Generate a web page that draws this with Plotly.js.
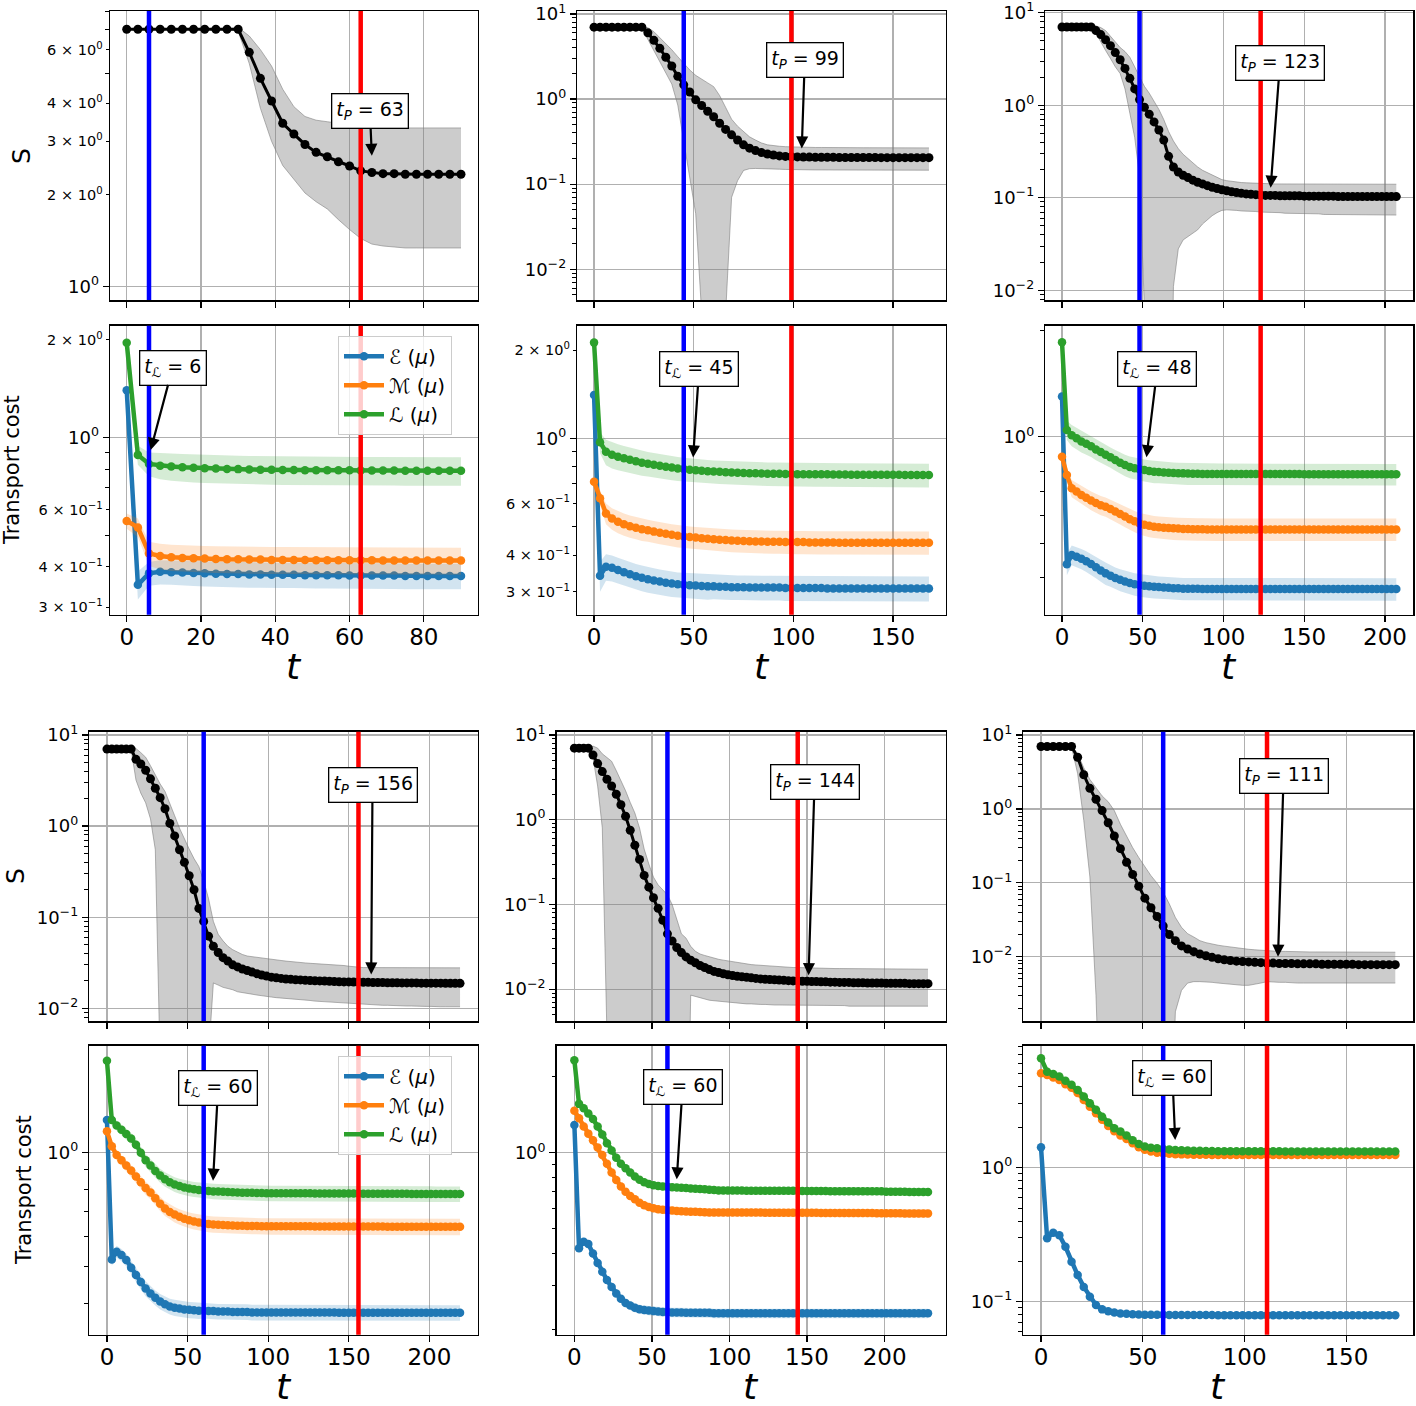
<!DOCTYPE html>
<html><head><meta charset="utf-8">
<script src="https://cdn.plot.ly/plotly-3.0.1.min.js"></script>
<style>html,body{margin:0;padding:0;background:#fff}#chart{width:1416px;height:1406px}</style>
</head><body><div id="chart"></div>
<script>
// ================= DATA =================
// Run A (top-left column): t = 0..90 step 3
const A_tL = 6, A_tP = 63;
const A_S = [7.0,7.0,7.0,7.0,7.0,7.0,7.0,7.0,7.0,7.0,
 7.0,5.88,4.83,4.07,3.44,3.17,2.93,2.76,2.67,2.57,
 2.49,2.40,2.37,2.35,2.35,2.34,2.34,2.34,2.34,2.34,
 2.34];
const A_Slo = [7.0,7.0,7.0,7.0,7.0,7.0,7.0,7.0,7.0,7.0,
 6.9,5.4,3.85,3.0,2.5,2.25,2.03,1.9,1.8,1.66,
 1.54,1.44,1.38,1.36,1.35,1.34,1.34,1.34,1.34,1.34,
 1.34];
const A_Shi = [7.0,7.0,7.0,7.0,7.0,7.0,7.0,7.0,7.0,7.0,
 7.1,6.65,6.0,5.3,4.45,3.9,3.62,3.52,3.48,3.44,
 3.38,3.32,3.32,3.32,3.32,3.32,3.32,3.32,3.32,3.32,
 3.32];
const A_E = [1.40,0.352,0.382,0.386,0.385,0.384,0.383,0.382,0.381,0.380,
 0.380,0.379,0.379,0.378,0.378,0.378,0.377,0.377,0.377,0.377,
 0.376,0.376,0.376,0.376,0.376,0.375,0.375,0.375,0.375,0.375,
 0.375];
const A_Esd = [0.05,0.035,0.032,0.033,0.033,0.034,0.034,0.034,0.034,0.034,
 0.034,0.034,0.034,0.034,0.034,0.034,0.034,0.034,0.034,0.034,
 0.034,0.034,0.034,0.034,0.034,0.034,0.034,0.034,0.034,0.034,
 0.034];
const A_M = [0.554,0.529,0.440,0.432,0.428,0.426,0.425,0.424,0.423,0.422,
 0.422,0.421,0.421,0.420,0.420,0.420,0.420,0.419,0.419,0.419,
 0.419,0.419,0.419,0.418,0.418,0.418,0.418,0.418,0.418,0.418,
 0.418];
const A_Msd = [0.03,0.035,0.038,0.039,0.04,0.04,0.04,0.04,0.04,0.04,
 0.04,0.04,0.04,0.04,0.04,0.04,0.04,0.04,0.04,0.04,
 0.04,0.04,0.04,0.04,0.04,0.04,0.04,0.04,0.04,0.04,
 0.04];
const A_L = [1.96,0.885,0.830,0.820,0.815,0.811,0.808,0.805,0.803,0.801,
 0.800,0.798,0.797,0.796,0.795,0.795,0.794,0.794,0.793,0.793,
 0.793,0.792,0.792,0.792,0.792,0.791,0.791,0.791,0.791,0.791,
 0.791];
const A_Lsd = [0.05,0.06,0.07,0.075,0.078,0.08,0.08,0.08,0.08,0.08,
 0.08,0.08,0.08,0.08,0.08,0.08,0.08,0.08,0.08,0.08,
 0.08,0.08,0.08,0.08,0.08,0.08,0.08,0.08,0.08,0.08,
 0.08];

// Run B (top-middle column): t = 0..168 step 3
const B_tL = 45, B_tP = 99;
const B_S = [7.0,7.0,7.0,7.0,7.0,7.0,7.0,7.0,7.0,
 6.0,4.9,3.95,3.1,2.45,1.85,1.47,1.21,0.98,0.84,
 0.72,0.62,0.52,0.44,0.38,0.33,0.29,0.265,0.248,0.235,
 0.226,0.22,0.215,0.212,0.21,0.209,
 0.208,0.208,0.207,0.207,0.207,0.207,0.206,0.206,0.206,0.206,
 0.206,0.206,0.206,0.205,0.205,0.205,0.205,0.205,0.205,0.205,
 0.205,0.205];
const B_Slo = [7.0,7.0,7.0,7.0,7.0,7.0,7.0,7.0,
 6.8,5.0,3.7,2.7,2.0,1.5,0.85,0.33,0.12,0.045,
 0.003,1e-5,1e-5,1e-5,0.003,0.07,0.11,0.145,0.152,0.153,
 0.153,0.152,0.151,0.15,0.149,0.148,0.148,
 0.147,0.147,0.147,0.147,0.147,0.147,0.147,0.147,0.147,0.147,
 0.146,0.146,0.146,0.146,0.146,0.146,0.146,0.146,0.146,0.146,
 0.146,0.146];
const B_Shi = [7.0,7.0,7.0,7.0,7.0,7.0,7.0,7.0,
 7.2,6.9,6.2,5.3,4.5,3.8,3.15,2.6,2.2,1.9,
 1.7,1.55,1.40,1.1,0.8,0.58,0.48,0.42,0.36,0.33,
 0.305,0.29,0.283,0.279,0.276,0.274,0.272,
 0.271,0.27,0.27,0.27,0.269,0.269,0.269,0.269,0.268,0.268,
 0.268,0.268,0.268,0.268,0.267,0.267,0.267,0.267,0.267,0.267,
 0.267,0.267];
const B_E = [1.405,0.34,0.365,0.362,0.356,0.350,0.344,0.339,0.335,0.331,
 0.328,0.325,0.322,0.320,0.318,0.317,0.316,0.315,0.314,0.313,
 0.313,0.312,0.312,0.311,0.311,0.311,0.310,0.310,0.310,0.310,
 0.310,0.310,0.309,0.309,0.309,0.309,0.309,0.309,0.309,0.308,
 0.308,0.308,0.308,0.308,0.308,0.308,0.308,0.308,0.308,0.308,
 0.308,0.308,0.308,0.308,0.308,0.308,0.308];
const B_Esd = [0.04,0.04,0.038,0.037,0.036,0.035,0.035,0.034,0.034,0.033,
 0.033,0.032,0.032,0.032,0.031,0.031,0.031,0.031,0.031,0.031,
 0.03,0.03,0.03,0.03,0.03,0.03,0.03,0.03,0.03,0.03,
 0.03,0.03,0.03,0.03,0.03,0.03,0.03,0.03,0.03,0.03,
 0.03,0.03,0.03,0.03,0.03,0.03,0.03,0.03,0.03,0.03,
 0.03,0.03,0.03,0.03,0.03,0.03,0.03];
const B_M = [0.711,0.625,0.555,0.533,0.520,0.510,0.502,0.496,0.490,0.486,
 0.481,0.477,0.473,0.469,0.466,0.463,0.461,0.459,0.457,0.455,
 0.453,0.451,0.450,0.449,0.448,0.447,0.446,0.445,0.445,0.444,
 0.444,0.444,0.443,0.443,0.443,0.443,0.442,0.442,0.442,0.442,
 0.442,0.441,0.441,0.441,0.441,0.441,0.441,0.441,0.441,0.441,
 0.441,0.441,0.441,0.441,0.441,0.441,0.441];
const B_Msd = [0.03,0.04,0.045,0.045,0.045,0.044,0.044,0.043,0.043,0.042,
 0.042,0.041,0.041,0.041,0.041,0.04,0.04,0.04,0.04,0.04,
 0.04,0.04,0.04,0.04,0.04,0.04,0.04,0.04,0.04,0.04,
 0.04,0.04,0.04,0.04,0.04,0.04,0.04,0.04,0.04,0.04,
 0.04,0.04,0.04,0.04,0.04,0.04,0.04,0.04,0.04,0.04,
 0.04,0.04,0.04,0.04,0.04,0.04,0.04];
const B_L = [2.12,0.97,0.90,0.88,0.866,0.855,0.845,0.835,0.826,0.820,
 0.813,0.806,0.800,0.795,0.790,0.786,0.782,0.779,0.776,0.773,
 0.771,0.769,0.767,0.765,0.763,0.762,0.761,0.760,0.759,0.758,
 0.757,0.757,0.756,0.756,0.755,0.755,0.755,0.754,0.754,0.754,
 0.753,0.753,0.753,0.752,0.752,0.752,0.752,0.751,0.751,0.751,
 0.751,0.751,0.750,0.750,0.750,0.750,0.750];
const B_Lsd = [0.05,0.08,0.09,0.09,0.088,0.086,0.084,0.082,0.08,0.079,
 0.078,0.077,0.076,0.075,0.074,0.073,0.072,0.072,0.071,0.071,
 0.07,0.07,0.07,0.07,0.07,0.07,0.07,0.07,0.07,0.07,
 0.07,0.07,0.07,0.07,0.07,0.07,0.07,0.07,0.07,0.07,
 0.07,0.07,0.07,0.07,0.07,0.07,0.07,0.07,0.07,0.07,
 0.07,0.07,0.07,0.07,0.07,0.07,0.07];

// Run C (top-right column): t = 0..207 step 3
const C_tL = 48, C_tP = 123;
const C_S = [7.0,7.0,7.0,7.0,7.0,7.0,7.0,
 6.4,5.8,5.1,4.4,3.7,3.1,2.5,1.95,1.5,1.15,
 0.95,0.80,0.66,0.54,0.42,0.28,0.215,0.19,0.175,0.165,
 0.155,0.147,0.141,0.135,0.130,0.126,0.122,0.119,0.116,0.114,
 0.112,0.110,0.109,0.108,0.107,
 0.106,0.106,0.106,0.105,0.105,0.105,0.105,0.105,0.104,0.104,
 0.104,0.104,0.104,0.104,0.104,0.103,0.103,0.103,0.103,0.103,
 0.103,0.103,0.103,0.103,0.103,0.103,0.103,0.103];
const C_Slo = [7.0,7.0,7.0,7.0,7.0,7.0,7.0,
 6.0,4.8,3.9,3.2,2.6,2.2,1.5,0.82,0.45,0.17,
 0.004,1e-5,1e-5,1e-5,1e-5,1e-5,
 0.011,0.028,0.035,0.038,
 0.041,0.045,0.052,0.058,0.064,0.069,0.073,0.074,0.074,0.073,
 0.072,0.072,0.071,0.071,0.07,
 0.07,0.069,0.069,0.069,0.068,0.068,0.068,0.068,0.067,0.067,
 0.067,0.067,0.066,0.066,0.066,0.066,0.066,0.066,0.065,0.065,
 0.065,0.065,0.065,0.065,0.065,0.065,0.065,0.065];
const C_Shi = [7.0,7.0,7.0,7.0,7.0,7.0,7.0,
 7.2,6.9,6.4,5.6,4.8,4.2,3.8,3.3,2.6,2.0,
 1.6,1.35,1.1,0.9,0.7,0.52,0.41,0.34,0.295,0.265,
 0.24,0.215,0.198,0.187,0.175,0.165,0.157,0.153,0.15,0.148,
 0.146,0.145,0.144,0.143,0.142,
 0.142,0.142,0.141,0.141,0.141,0.141,0.141,0.141,0.141,0.141,
 0.14,0.14,0.14,0.14,0.14,0.14,0.14,0.14,0.14,0.14,
 0.14,0.14,0.14,0.14,0.14,0.14,0.14,0.14];
const C_E = [1.30,0.436,0.463,0.458,0.452,0.445,0.437,0.428,0.419,0.411,
 0.405,0.399,0.394,0.390,0.386,0.383,0.381,0.379,0.378,0.377,
 0.376,0.375,0.374,0.373,0.373,0.372,0.372,0.372,0.372,0.371,
 0.371,0.371,0.371,0.371,0.371,0.371,0.371,0.371,0.371,0.371,
 0.371,0.371,0.371,0.371,0.371,0.371,0.371,0.371,0.371,0.371,
 0.371,0.371,0.371,0.371,0.371,0.371,0.371,0.371,0.371,0.371,
 0.371,0.371,0.371,0.371,0.371,0.371,0.371,0.371,0.371,0.371];
const C_Esd = [0.03,0.03,0.03,0.03,0.03,0.03,0.03,0.03,0.03,0.03,
 0.028,0.028,0.028,0.028,0.028,0.028,0.028,0.028,0.028,0.028,
 0.027,0.027,0.027,0.027,0.027,0.027,0.027,0.027,0.027,0.027,
 0.027,0.027,0.027,0.027,0.027,0.027,0.027,0.027,0.027,0.027,
 0.027,0.027,0.027,0.027,0.027,0.027,0.027,0.027,0.027,0.027,
 0.027,0.027,0.027,0.027,0.027,0.027,0.027,0.027,0.027,0.027,
 0.027,0.027,0.027,0.027,0.027,0.027,0.027,0.027,0.027,0.027];
const C_M = [0.878,0.78,0.715,0.70,0.685,0.672,0.66,0.65,0.64,0.634,
 0.625,0.615,0.605,0.595,0.585,0.577,0.569,0.564,0.56,0.557,
 0.555,0.553,0.552,0.551,0.55,0.549,0.549,0.548,0.548,0.548,
 0.547,0.547,0.547,0.547,0.547,0.547,0.547,0.547,0.547,0.547,
 0.547,0.547,0.547,0.547,0.547,0.547,0.547,0.547,0.547,0.547,
 0.547,0.547,0.547,0.547,0.547,0.547,0.547,0.547,0.547,0.547,
 0.547,0.547,0.547,0.547,0.547,0.547,0.547,0.547,0.547,0.547];
const C_Msd = [0.035,0.038,0.04,0.04,0.04,0.04,0.04,0.04,0.04,0.04,
 0.04,0.04,0.04,0.04,0.04,0.04,0.04,0.04,0.04,0.04,
 0.04,0.04,0.04,0.04,0.04,0.04,0.04,0.04,0.04,0.04,
 0.04,0.04,0.04,0.04,0.04,0.04,0.04,0.04,0.04,0.04,
 0.04,0.04,0.04,0.04,0.04,0.04,0.04,0.04,0.04,0.04,
 0.04,0.04,0.04,0.04,0.04,0.04,0.04,0.04,0.04,0.04,
 0.04,0.04,0.04,0.04,0.04,0.04,0.04,0.04,0.04,0.04];
const C_L = [1.85,1.045,1.01,0.99,0.97,0.955,0.94,0.92,0.905,0.89,
 0.875,0.86,0.845,0.832,0.822,0.815,0.81,0.805,0.80,0.797,
 0.795,0.793,0.791,0.79,0.789,0.788,0.787,0.786,0.786,0.785,
 0.785,0.785,0.785,0.785,0.785,0.785,0.785,0.785,0.785,0.785,
 0.785,0.785,0.785,0.785,0.785,0.785,0.785,0.785,0.785,0.785,
 0.784,0.784,0.784,0.784,0.784,0.784,0.784,0.784,0.784,0.784,
 0.783,0.783,0.783,0.783,0.783,0.783,0.783,0.783,0.783,0.783];
const C_Lsd = [0.05,0.065,0.07,0.07,0.068,0.066,0.064,0.062,0.06,0.059,
 0.058,0.058,0.058,0.058,0.058,0.058,0.058,0.058,0.058,0.058,
 0.056,0.056,0.056,0.056,0.056,0.056,0.056,0.056,0.056,0.056,
 0.055,0.055,0.055,0.055,0.055,0.055,0.055,0.055,0.055,0.055,
 0.055,0.055,0.055,0.055,0.055,0.055,0.055,0.055,0.055,0.055,
 0.055,0.055,0.055,0.055,0.055,0.055,0.055,0.055,0.055,0.055,
 0.055,0.055,0.055,0.055,0.055,0.055,0.055,0.055,0.055,0.055];

// Run D (bottom-left column): t = 0..219 step 3
const D_tL = 60, D_tP = 156;
const D_S = [7.0,7.0,7.0,7.0,7.0,7.0,
 5.4,4.8,4.1,3.3,2.6,2.05,1.55,1.07,0.78,0.55,
 0.40,0.285,0.20,0.125,0.09,0.062,0.048,0.041,0.036,0.033,
 0.030,0.0285,0.027,0.026,0.025,0.024,0.0232,0.0226,0.022,0.0216,
 0.0213,0.021,0.0208,0.0206,0.0205,0.0203,0.0202,0.0201,0.02,0.0199,
 0.0198,0.0197,0.0196,0.0195,0.0195,0.0194,0.0194,
 0.0193,0.0193,0.0192,0.0192,0.0192,0.0191,0.0191,0.0191,0.019,0.019,
 0.019,0.019,0.0189,0.0189,0.0189,0.0189,0.0189,0.0188,0.0188,0.0188,
 0.0188];
const D_Slo = [7.0,7.0,7.0,7.0,7.0,
 6.9,3.2,2.3,1.8,1.2,0.55,0.003,
 1e-5,1e-5,1e-5,1e-5,1e-5,1e-5,1e-5,1e-5,1e-5,
 0.003,0.019,0.018,0.017,0.0165,0.016,0.0152,0.0148,0.0145,0.0143,
 0.014,0.0137,0.0135,0.0133,0.0131,0.013,0.0129,0.0128,0.0127,0.0126,
 0.0124,0.0122,0.012,0.0119,0.0118,0.0117,0.0116,0.0115,0.0114,0.0113,
 0.0112,0.0111,
 0.011,0.011,0.0109,0.0109,0.0108,0.0108,0.0107,0.0107,0.0106,0.0106,
 0.0106,0.0105,0.0105,0.0105,0.0105,0.0104,0.0104,0.0104,0.0104,0.0104,
 0.0104];
const D_Shi = [7.0,7.0,7.0,7.0,7.0,
 7.3,7.1,6.4,5.7,4.6,3.6,2.9,2.4,1.8,1.3,
 0.95,0.72,0.56,0.44,0.36,0.25,0.16,0.09,0.065,0.055,
 0.048,0.044,0.041,0.039,0.0375,0.037,0.036,0.0355,0.035,0.0345,
 0.034,0.0335,0.033,0.0325,0.032,0.0318,0.0315,0.0312,0.031,0.0307,
 0.0305,0.0302,0.03,0.0298,0.0295,0.029,0.0285,0.028,
 0.028,0.028,0.028,0.028,0.028,0.028,0.028,0.028,0.028,0.028,
 0.028,0.028,0.028,0.028,0.028,0.028,0.028,0.028,0.028,0.028,
 0.0278];
const D_E = [1.22,0.522,0.547,0.536,0.52,0.496,0.475,0.455,0.437,0.424,
 0.413,0.404,0.397,0.392,0.389,0.387,0.385,0.384,0.383,0.382,
 0.382,0.381,0.381,0.380,0.380,0.380,0.379,0.379,0.379,0.379,
 0.378,0.378,0.378,0.378,0.378,0.378,0.378,0.378,0.378,0.378,
 0.378,0.378,0.378,0.378,0.378,0.378,0.378,0.378,0.377,0.377,
 0.377,0.377,0.377,0.377,0.377,0.377,0.377,0.377,0.377,0.377,
 0.377,0.377,0.377,0.377,0.377,0.377,0.377,0.377,0.377,0.377,
 0.377,0.377,0.377,0.377];
const D_Esd = [0.02,0.02,0.02,0.02,0.02,0.02,0.02,0.02,0.02,0.02,
 0.019,0.019,0.019,0.019,0.019,0.019,0.019,0.019,0.019,0.019,
 0.018,0.018,0.018,0.018,0.018,0.018,0.018,0.018,0.018,0.018,
 0.018,0.018,0.018,0.018,0.018,0.018,0.018,0.018,0.018,0.018,
 0.018,0.018,0.018,0.018,0.018,0.018,0.018,0.018,0.018,0.018,
 0.018,0.018,0.018,0.018,0.018,0.018,0.018,0.018,0.018,0.018,
 0.018,0.018,0.018,0.018,0.018,0.018,0.018,0.018,0.018,0.018,
 0.018,0.018,0.018,0.018];
const D_M = [1.14,1.04,0.986,0.955,0.925,0.897,0.865,0.835,0.806,0.785,
 0.758,0.733,0.712,0.697,0.686,0.677,0.669,0.663,0.658,0.654,
 0.651,0.648,0.646,0.645,0.644,0.643,0.642,0.641,0.641,0.640,
 0.640,0.640,0.639,0.639,0.639,0.639,0.639,0.639,0.639,0.639,
 0.639,0.639,0.639,0.638,0.638,0.638,0.638,0.638,0.638,0.638,
 0.638,0.638,0.638,0.638,0.638,0.638,0.638,0.638,0.637,0.637,
 0.637,0.637,0.637,0.637,0.637,0.637,0.637,0.637,0.637,0.637,
 0.637,0.637,0.637,0.637];
const D_Msd = [0.03,0.03,0.031,0.031,0.032,0.032,0.032,0.032,0.032,0.032,
 0.032,0.032,0.032,0.032,0.032,0.032,0.032,0.032,0.032,0.032,
 0.032,0.032,0.032,0.032,0.032,0.032,0.032,0.032,0.032,0.032,
 0.032,0.032,0.032,0.032,0.032,0.032,0.032,0.032,0.032,0.032,
 0.032,0.032,0.032,0.032,0.032,0.032,0.032,0.032,0.032,0.032,
 0.032,0.032,0.032,0.032,0.032,0.032,0.032,0.032,0.032,0.032,
 0.032,0.032,0.032,0.032,0.032,0.032,0.032,0.032,0.032,0.032,
 0.032,0.032,0.032,0.032];
const D_L = [1.75,1.22,1.18,1.15,1.12,1.09,1.05,1.0,0.955,0.925,
 0.895,0.87,0.85,0.835,0.824,0.816,0.809,0.804,0.80,0.797,
 0.794,0.792,0.79,0.789,0.788,0.787,0.786,0.785,0.784,0.783,
 0.783,0.782,0.782,0.781,0.781,0.781,0.781,0.781,0.781,0.781,
 0.781,0.781,0.781,0.78,0.78,0.78,0.78,0.78,0.78,0.78,
 0.78,0.78,0.78,0.779,0.779,0.779,0.779,0.779,0.779,0.779,
 0.779,0.779,0.779,0.778,0.778,0.778,0.778,0.778,0.777,0.777,
 0.777,0.777,0.777,0.777];
const D_Lsd = [0.03,0.035,0.037,0.037,0.037,0.037,0.037,0.037,0.037,0.037,
 0.037,0.037,0.037,0.037,0.037,0.037,0.037,0.037,0.037,0.037,
 0.037,0.037,0.037,0.037,0.037,0.037,0.037,0.037,0.037,0.037,
 0.037,0.037,0.037,0.037,0.037,0.037,0.037,0.037,0.037,0.037,
 0.037,0.037,0.037,0.037,0.037,0.037,0.037,0.037,0.037,0.037,
 0.037,0.037,0.037,0.037,0.037,0.037,0.037,0.037,0.037,0.037,
 0.037,0.037,0.037,0.037,0.037,0.037,0.037,0.037,0.037,0.037,
 0.037,0.037,0.037,0.037];

// Run E (bottom-middle column): t = 0..228 step 3
const E_tL = 60, E_tP = 144;
const E_S = [7.0,7.0,7.0,7.0,
 5.8,4.6,3.7,3.0,2.5,2.0,1.5,1.1,0.75,0.50,
 0.34,0.22,0.16,0.12,0.09,0.065,0.045,0.037,0.031,0.027,
 0.024,0.022,0.0205,0.019,0.018,0.017,0.0162,0.0157,0.0152,0.0148,
 0.0145,0.0142,0.014,0.0138,0.0136,0.0134,0.0132,0.0131,0.013,0.0129,
 0.0128,0.0127,0.0126,0.0125,0.0125,
 0.0124,0.0124,0.0123,0.0123,0.0122,0.0122,0.0121,0.0121,0.012,0.012,
 0.012,0.0119,0.0119,0.0119,0.0118,0.0118,0.0118,0.0118,0.0117,0.0117,
 0.0117,0.0117,0.0117,0.0116,0.0116,0.0116,0.0116,0.0116];
const E_Slo = [7.0,7.0,7.0,7.0,
 5.4,2.5,0.8,0.003,
 1e-5,1e-5,1e-5,1e-5,1e-5,1e-5,1e-5,1e-5,1e-5,1e-5,1e-5,1e-5,1e-5,1e-5,1e-5,1e-5,1e-5,
 0.0085,0.0082,0.008,0.0076,0.0074,0.0073,0.0072,0.0071,0.007,0.0069,
 0.0069,0.0068,0.0067,0.0067,0.0066,0.0066,0.0066,0.0065,0.0065,0.0065,
 0.0065,0.0064,0.0064,0.0064,
 0.0064,0.0064,0.0064,0.0064,0.0064,0.0064,0.0064,0.0064,0.0064,0.0064,
 0.0063,0.0063,0.0063,0.0063,0.0063,0.0063,0.0063,0.0063,0.0063,0.0063,
 0.0063,0.0063,0.0063,0.0063,0.0063,0.0063,0.0063,0.0063];
const E_Shi = [7.0,7.0,7.0,7.0,
 7.4,7.0,6.0,5.4,4.9,3.8,2.9,2.2,1.6,1.2,
 0.8,0.45,0.3,0.21,0.17,0.15,0.13,0.1,0.065,0.045,
 0.04,0.032,0.028,0.026,0.025,0.024,0.023,0.0225,0.022,0.0215,
 0.021,0.0205,0.02,0.0197,0.0195,0.0193,0.0191,0.019,0.0188,0.0186,
 0.0185,0.0183,0.0182,0.018,0.018,
 0.0179,0.0178,0.0178,0.0177,0.0177,0.0176,0.0176,0.0175,0.0175,0.0175,
 0.0174,0.0174,0.0174,0.0173,0.0173,0.0173,0.0173,0.0172,0.0172,0.0172,
 0.0172,0.0172,0.0172,0.0172,0.0172,0.0172,0.0172,0.0172];
const E_E = [1.287,0.419,0.445,0.436,0.40,0.367,0.339,0.314,0.295,0.278,
 0.265,0.255,0.249,0.244,0.241,0.239,0.238,0.237,0.236,0.235,
 0.235,0.234,0.234,0.234,0.233,0.233,0.233,0.233,0.233,0.233,
 0.232,0.232,0.232,0.232,0.232,0.232,0.232,0.232,0.232,0.232,
 0.232,0.232,0.232,0.232,0.232,0.232,0.232,0.232,0.232,0.232,
 0.232,0.232,0.232,0.232,0.232,0.232,0.232,0.232,0.232,0.232,
 0.232,0.232,0.232,0.232,0.232,0.232,0.232,0.232,0.232,0.232,
 0.232,0.232,0.232,0.232,0.232,0.232,0.232];
const E_Esd = [0.012,0.015,0.015,0.015,0.014,0.013,0.012,0.011,0.011,0.01,
 0.01,0.01,0.01,0.01,0.01,0.01,0.01,0.01,0.01,0.01,
 0.01,0.01,0.01,0.01,0.01,0.01,0.01,0.01,0.01,0.01,
 0.01,0.01,0.01,0.01,0.01,0.01,0.01,0.01,0.01,0.01,
 0.01,0.01,0.01,0.01,0.01,0.01,0.01,0.01,0.01,0.01,
 0.01,0.01,0.01,0.01,0.01,0.01,0.01,0.01,0.01,0.01,
 0.01,0.01,0.01,0.01,0.01,0.01,0.01,0.01,0.01,0.01,
 0.01,0.01,0.01,0.01,0.01,0.01,0.01];
const E_M = [1.466,1.37,1.27,1.19,1.12,1.05,0.98,0.905,0.835,0.78,
 0.735,0.701,0.675,0.655,0.635,0.62,0.61,0.603,0.598,0.595,
 0.593,0.591,0.589,0.587,0.586,0.585,0.584,0.583,0.582,0.581,
 0.58,0.58,0.58,0.58,0.58,0.58,0.58,0.58,0.58,0.58,
 0.58,0.579,0.579,0.579,0.579,0.579,0.579,0.579,0.579,0.579,
 0.579,0.579,0.579,0.578,0.578,0.578,0.578,0.578,0.578,0.578,
 0.578,0.578,0.578,0.578,0.578,0.577,0.577,0.577,0.577,0.577,
 0.577,0.576,0.576,0.576,0.576,0.576,0.576];
const E_Msd = [0.022,0.022,0.022,0.022,0.022,0.022,0.022,0.022,0.022,0.022,
 0.022,0.022,0.022,0.022,0.022,0.022,0.022,0.022,0.022,0.022,
 0.022,0.022,0.022,0.022,0.022,0.022,0.022,0.022,0.022,0.022,
 0.022,0.022,0.022,0.022,0.022,0.022,0.022,0.022,0.022,0.022,
 0.022,0.022,0.022,0.022,0.022,0.022,0.022,0.022,0.022,0.022,
 0.022,0.022,0.022,0.022,0.022,0.022,0.022,0.022,0.022,0.022,
 0.022,0.022,0.022,0.022,0.022,0.022,0.022,0.022,0.022,0.022,
 0.022,0.022,0.022,0.022,0.022,0.022,0.022];
const E_L = [2.32,1.56,1.50,1.43,1.36,1.27,1.18,1.09,1.02,0.955,
 0.905,0.868,0.835,0.805,0.782,0.765,0.752,0.744,0.739,0.736,
 0.734,0.731,0.729,0.727,0.725,0.723,0.721,0.719,0.717,0.714,
 0.712,0.709,0.709,0.709,0.709,0.709,0.709,0.708,0.708,0.708,
 0.708,0.708,0.708,0.707,0.707,0.707,0.707,0.707,0.707,0.706,
 0.706,0.706,0.706,0.706,0.706,0.705,0.705,0.705,0.705,0.705,
 0.705,0.704,0.704,0.704,0.704,0.704,0.704,0.702,0.702,0.702,
 0.702,0.702,0.700,0.700,0.700,0.700,0.700];
const E_Lsd = [0.02,0.025,0.025,0.025,0.025,0.025,0.025,0.025,0.025,0.025,
 0.025,0.025,0.025,0.025,0.025,0.025,0.025,0.025,0.025,0.025,
 0.025,0.025,0.025,0.025,0.025,0.025,0.025,0.025,0.025,0.025,
 0.025,0.025,0.025,0.025,0.025,0.025,0.025,0.025,0.025,0.025,
 0.025,0.025,0.025,0.025,0.025,0.025,0.025,0.025,0.025,0.025,
 0.025,0.025,0.025,0.025,0.025,0.025,0.025,0.025,0.025,0.025,
 0.025,0.025,0.025,0.025,0.025,0.025,0.025,0.025,0.025,0.025,
 0.025,0.025,0.025,0.025,0.025,0.025,0.025];

// Run F (bottom-right column): t = 0..174 step 3
const F_tL = 60, F_tP = 111;
const F_S = [7.0,7.0,7.0,7.0,7.0,7.0,
 5.0,2.9,1.9,1.35,0.95,0.65,0.43,0.29,0.19,0.13,
 0.09,0.062,0.046,0.035,0.026,0.020,0.0165,0.014,0.0127,0.0117,
 0.0109,0.0103,0.0098,0.0094,0.0091,0.0089,0.0087,0.0086,0.0085,0.0084,
 0.0083,0.0082,
 0.0082,0.0081,0.0081,0.0081,0.008,0.008,0.008,0.008,0.0079,0.0079,
 0.0079,0.0079,0.0079,0.0079,0.0078,0.0078,0.0078,0.0078,0.0078,0.0078,
 0.0078];
const F_Slo = [7.0,7.0,7.0,7.0,7.0,
 6.9,3.0,0.7,0.12,0.003,
 1e-5,1e-5,1e-5,1e-5,1e-5,1e-5,1e-5,1e-5,1e-5,1e-5,1e-5,1e-5,
 0.0018,0.0035,0.0044,0.0046,0.0046,0.0046,0.0045,0.0044,0.0043,0.0042,
 0.0041,0.0041,0.0041,0.0042,0.0044,0.0046,
 0.0045,0.0045,0.0045,0.0044,0.0044,0.0044,0.0044,0.0044,0.0044,0.0044,
 0.0044,0.0044,0.0044,0.0044,0.0044,0.0044,0.0044,0.0044,0.0044,0.0044,
 0.0044];
const F_Shi = [7.0,7.0,7.0,7.0,7.0,
 7.1,5.6,3.6,2.5,1.95,1.5,1.25,0.95,0.62,0.42,
 0.3,0.22,0.165,0.125,0.099,0.075,0.052,0.034,0.025,0.0205,
 0.0185,0.0165,0.0155,0.0148,0.0143,0.0139,0.0135,0.0131,0.0128,0.0126,
 0.0124,0.0122,0.012,
 0.0119,0.0118,0.0118,0.0117,0.0117,0.0117,0.0116,0.0116,0.0116,0.0116,
 0.0115,0.0115,0.0115,0.0115,0.0115,0.0115,0.0115,0.0115,0.0115,0.0115,
 0.0115];
const F_E = [1.42,0.297,0.327,0.313,0.257,0.199,0.158,0.129,0.109,0.0945,
 0.0877,0.085,0.083,0.0818,0.0812,0.0806,0.0803,0.0801,0.08,0.0799,
 0.0798,0.0797,0.0797,0.0796,0.0796,0.0795,0.0795,0.0795,0.0795,0.0794,
 0.0794,0.0794,0.0794,0.0794,0.0794,0.0794,0.0794,0.0794,0.0794,0.0794,
 0.0794,0.0794,0.0794,0.0794,0.0794,0.0794,0.0794,0.0794,0.0794,0.0794,
 0.0794,0.0794,0.0794,0.0794,0.0794,0.0794,0.0794,0.0794,0.0794];
const F_Esd = [0.01,0.01,0.01,0.01,0.008,0.006,0.005,0.004,0.004,0.004,
 0.003,0.003,0.003,0.003,0.003,0.003,0.003,0.003,0.003,0.003,
 0.003,0.003,0.003,0.003,0.003,0.003,0.003,0.003,0.003,0.003,
 0.003,0.003,0.003,0.003,0.003,0.003,0.003,0.003,0.003,0.003,
 0.003,0.003,0.003,0.003,0.003,0.003,0.003,0.003,0.003,0.003,
 0.003,0.003,0.003,0.003,0.003,0.003,0.003,0.003,0.003];
const F_M = [5.06,4.92,4.7,4.51,4.2,3.95,3.6,3.2,2.85,2.55,
 2.28,2.05,1.87,1.74,1.64,1.52,1.42,1.36,1.32,1.295,
 1.28,1.27,1.262,1.257,1.253,1.25,1.248,1.247,1.246,1.245,
 1.245,1.245,1.245,1.245,1.245,1.245,1.245,1.245,1.245,1.245,
 1.244,1.244,1.244,1.244,1.244,1.244,1.244,1.244,1.244,1.244,
 1.243,1.243,1.243,1.243,1.243,1.243,1.243,1.243,1.243];
const F_Msd = [0.02,0.02,0.02,0.02,0.02,0.02,0.02,0.02,0.02,0.02,
 0.02,0.02,0.02,0.02,0.02,0.02,0.02,0.02,0.02,0.02,
 0.02,0.02,0.02,0.02,0.02,0.02,0.02,0.02,0.02,0.02,
 0.02,0.02,0.02,0.02,0.02,0.02,0.02,0.02,0.02,0.02,
 0.02,0.02,0.02,0.02,0.02,0.02,0.02,0.02,0.02,0.02,
 0.02,0.02,0.02,0.02,0.02,0.02,0.02,0.02,0.02];
const F_L = [6.55,5.2,5.0,4.78,4.45,4.15,3.8,3.4,3.02,2.7,
 2.4,2.17,1.97,1.86,1.74,1.6,1.5,1.44,1.41,1.395,
 1.38,1.365,1.355,1.35,1.345,1.34,1.337,1.334,1.331,1.328,
 1.326,1.326,1.326,1.326,1.326,1.326,1.326,1.326,1.326,1.326,
 1.322,1.322,1.322,1.322,1.322,1.322,1.322,1.322,1.322,1.322,
 1.318,1.318,1.318,1.318,1.318,1.318,1.318,1.318,1.318];
const F_Lsd = [0.03,0.03,0.03,0.03,0.03,0.03,0.03,0.03,0.03,0.03,
 0.03,0.03,0.03,0.03,0.03,0.03,0.03,0.03,0.03,0.03,
 0.03,0.03,0.03,0.03,0.03,0.03,0.03,0.03,0.03,0.03,
 0.03,0.03,0.03,0.03,0.03,0.03,0.03,0.03,0.03,0.03,
 0.03,0.03,0.03,0.03,0.03,0.03,0.03,0.03,0.03,0.03,
 0.03,0.03,0.03,0.03,0.03,0.03,0.03,0.03,0.03];

const SERIES_NAMES = ['ℰ (<i>μ</i>)', 'ℳ (<i>μ</i>)', 'ℒ (<i>μ</i>)'];
const T_STEP = 3; // iterations are recorded every 3 steps

// ================= LAYOUT / STYLE =================
const W = 1416, H = 1406;
const COLORS = ['#1f77b4', '#ff7f0e', '#2ca02c'];
const FILLS = ['rgba(31,119,180,0.2)', 'rgba(255,127,14,0.2)', 'rgba(44,160,44,0.2)'];
const runs = [
 {S:A_S,Slo:A_Slo,Shi:A_Shi,E:[A_E,A_Esd],M:[A_M,A_Msd],L:[A_L,A_Lsd],tL:A_tL,tP:A_tP},
 {S:B_S,Slo:B_Slo,Shi:B_Shi,E:[B_E,B_Esd],M:[B_M,B_Msd],L:[B_L,B_Lsd],tL:B_tL,tP:B_tP},
 {S:C_S,Slo:C_Slo,Shi:C_Shi,E:[C_E,C_Esd],M:[C_M,C_Msd],L:[C_L,C_Lsd],tL:C_tL,tP:C_tP},
 {S:D_S,Slo:D_Slo,Shi:D_Shi,E:[D_E,D_Esd],M:[D_M,D_Msd],L:[D_L,D_Lsd],tL:D_tL,tP:D_tP},
 {S:E_S,Slo:E_Slo,Shi:E_Shi,E:[E_E,E_Esd],M:[E_M,E_Msd],L:[E_L,E_Lsd],tL:E_tL,tP:E_tP},
 {S:F_S,Slo:F_Slo,Shi:F_Shi,E:[F_E,F_Esd],M:[F_M,F_Msd],L:[F_L,F_Lsd],tL:F_tL,tP:F_tP}
];
// pixel geometry per run (column)
const geo = [
 {xd:[110,477.7], ys:[11,300], yt:[325.7,614.7], xr:[-4.5,94.5], xt:[0,20,40,60,80],
  sr:[-0.0437,0.905], tr:[-0.5455,0.345], sLab:[2,3,4,6], tLab:[0.3,0.4,0.6,2],
  sA:{x:66,y:2.69,ax:-2,ay:-45}, tA:{x:6.45,y:0.916,ax:22,ay:-82.5}, legend:'legend'},
 {xd:[577.3,945.7], ys:[11,300], yt:[325.7,614.7], xr:[-8.4,176.4], xt:[0,50,100,150],
  sr:[-2.361,1.035], tr:[-0.601,0.384], sLab:[], tLab:[0.3,0.4,0.6,2],
  sA:{x:104.2,y:0.263,ax:3,ay:-88.6}, tA:{x:49.7,y:0.861,ax:6,ay:-88.6}},
 {xd:[1045.3,1413], ys:[11,300], yt:[325.7,614.7], xr:[-10.35,217.35], xt:[0,50,100,150,200],
  sr:[-2.105,1.018], tr:[-0.503,0.314], sLab:[], tLab:[],
  sA:{x:129.2,y:0.1285,ax:9.3,ay:-124.4}, tA:{x:52.3,y:0.875,ax:10.8,ay:-88.5}},
 {xd:[89.3,477.7], ys:[731.7,1021], yt:[1045.7,1334.7], xr:[-10.95,229.95], xt:[0,50,100,150,200],
  sr:[-2.139,1.036], tr:[-0.4815,0.283], sLab:[], tLab:[],
  sA:{x:163.9,y:0.02355,ax:1.3,ay:-189.5}, tA:{x:65.8,y:0.843,ax:5,ay:-92.5}, legend:'legend2'},
 {xd:[556.7,945.7], ys:[731.7,1021], yt:[1045.7,1334.7], xr:[-11.4,239.4], xt:[0,50,100,150,200],
  sr:[-2.376,1.039], tr:[-0.719,0.423], sLab:[], tLab:[],
  sA:{x:151,y:0.01458,ax:6,ay:-193.5}, tA:{x:66,y:0.785,ax:5.8,ay:-92.1}},
 {xd:[1023.3,1413], ys:[731.7,1021], yt:[1045.7,1334.7], xr:[-8.7,182.7], xt:[0,50,100,150],
  sr:[-2.87,1.045], tr:[-1.246,0.910], sLab:[], tLab:[],
  sA:{x:116.4,y:0.01,ax:5.6,ay:-180.5}, tA:{x:65.9,y:1.61,ax:-2.7,ay:-62}}
];

function sfx(n){ return n === 1 ? '' : String(n); }
function powText(v){ const e = Math.round(Math.log10(v)); return '10<sup>' + (e < 0 ? '−' + (-e) : e) + '</sup>'; }
function minorText(v){ const e = Math.floor(Math.log10(v) + 1e-9); const k = Math.round(v / Math.pow(10, e)); return k + ' × ' + powText(Math.pow(10, e)); }
function majorVals(r){ const o = []; for (let d = Math.ceil(r[0]); d <= Math.floor(r[1]); d++) o.push(Math.pow(10, d)); return o; }
function minorVals(r, skip){
  const o = [];
  for (let d = Math.floor(r[0]) - 1; d <= Math.ceil(r[1]); d++) for (let k = 2; k <= 9; k++) {
    const v = k * Math.pow(10, d), lv = Math.log10(v);
    if (lv >= r[0] && lv <= r[1] && !skip.some(s => Math.abs(s - v) / v < 1e-6)) o.push(v);
  }
  return o;
}

const data = [];
const legendBase = {xanchor: 'left', yanchor: 'top', bgcolor: 'rgba(255,255,255,0.8)', traceorder: 'normal',
  bordercolor: '#cccccc', borderwidth: 1, font: {size: 20}, itemwidth: 40};
const layout = {
  width: W, height: H, margin: {l:0, r:0, t:0, b:0}, paper_bgcolor: 'white', plot_bgcolor: 'white',
  font: {family: 'DejaVu Sans', color: 'black'}, showlegend: true, shapes: [], annotations: [],
  legend: Object.assign({x: 338/W, y: 1 - 335.7/H}, legendBase),
  legend2: Object.assign({x: 338/W, y: 1 - 1055.7/H}, legendBase)
};
let overlayId = 13;

function addPanel(n, g, yPix, yr, labeled, showX){
  const xs = sfx(n);
  layout['xaxis' + xs] = {
    domain: [g.xd[0]/W, g.xd[1]/W], range: g.xr, anchor: 'y' + xs,
    tickmode: 'array', tickvals: g.xt, showticklabels: showX,
    ticks: 'outside', ticklen: 6, tickwidth: 1.3, tickcolor: 'black', ticklabelstandoff: -5,
    showgrid: true, gridcolor: '#b0b0b0', gridwidth: 1.2,
    showline: true, linecolor: 'black', linewidth: 1.5, mirror: true, zeroline: false,
    tickfont: {size: 23}, automargin: false
  };
  const maj = majorVals(yr);
  layout['yaxis' + xs] = {
    domain: [1 - yPix[1]/H, 1 - yPix[0]/H], type: 'log', range: yr, anchor: 'x' + xs,
    tickmode: 'array', tickvals: maj, ticktext: maj.map(powText),
    ticks: 'outside', ticklen: 6, tickwidth: 1.3, tickcolor: 'black',
    showgrid: true, gridcolor: '#b0b0b0', gridwidth: 1.2,
    showline: true, linecolor: 'black', linewidth: 1.5, mirror: true, zeroline: false,
    tickfont: {size: 18}, automargin: false, ticklabeloverflow: 'allow',
    minor: {tickmode: 'array', tickvals: minorVals(yr, labeled), ticks: 'outside', ticklen: 3.5,
            tickwidth: 1, tickcolor: 'black', showgrid: false}
  };
  if (labeled.length) {
    const oid = overlayId++;
    layout['yaxis' + oid] = {
      type: 'log', range: yr, overlaying: 'y' + xs, anchor: 'x' + xs, side: 'left',
      tickmode: 'array', tickvals: labeled, ticktext: labeled.map(minorText),
      ticks: 'outside', ticklen: 3.5, tickwidth: 1, tickcolor: 'black', ticklabeloverflow: 'allow',
      showgrid: false, showline: false, zeroline: false, tickfont: {size: 14.5}, automargin: false
    };
    // invisible carrier trace so the overlay axis is rendered
    data.push({x: [g.xr[0]], y: [labeled[0]], xaxis: 'x' + xs, yaxis: 'y' + oid, mode: 'markers',
               marker: {opacity: 0, size: 1}, showlegend: false, hoverinfo: 'skip'});
  }
}

runs.forEach((R, r) => {
  const g = geo[r];
  const nS = 2*r + 1, nT = 2*r + 2;
  const t = R.S.map((_, i) => i * T_STEP);
  addPanel(nS, g, g.ys, g.sr, g.sLab, false);
  addPanel(nT, g, g.yt, g.tr, g.tLab, true);
  const xS = 'x' + sfx(nS), yS = 'y' + sfx(nS), xT = 'x' + sfx(nT), yT = 'y' + sfx(nT);

  // S panel: band + mean
  data.push({x: t, y: R.Slo, xaxis: xS, yaxis: yS, mode: 'lines', line: {color: 'rgba(120,120,120,0.55)', width: 1},
             showlegend: false, hoverinfo: 'skip'});
  data.push({x: t, y: R.Shi, xaxis: xS, yaxis: yS, mode: 'lines', line: {color: 'rgba(120,120,120,0.55)', width: 1},
             fill: 'tonexty', fillcolor: 'rgba(128,128,128,0.4)', showlegend: false, hoverinfo: 'skip'});
  data.push({x: t, y: R.S, xaxis: xS, yaxis: yS, mode: 'lines+markers', line: {color: 'black', width: 3},
             marker: {color: 'black', size: 9}, showlegend: false});

  // Transport panel
  [R.E, R.M, R.L].forEach((pair, k) => {
    const m = pair[0], sd = pair[1];
    const tt = m.map((_, i) => i * T_STEP);
    data.push({x: tt, y: m.map((v, i) => v - sd[i]), xaxis: xT, yaxis: yT, mode: 'lines',
               line: {width: 0, color: COLORS[k]}, showlegend: false, hoverinfo: 'skip'});
    data.push({x: tt, y: m.map((v, i) => v + sd[i]), xaxis: xT, yaxis: yT, mode: 'lines',
               line: {width: 0, color: COLORS[k]}, fill: 'tonexty', fillcolor: FILLS[k], showlegend: false, hoverinfo: 'skip'});
    const tr = {x: tt, y: m, xaxis: xT, yaxis: yT, mode: 'lines+markers', name: SERIES_NAMES[k],
                line: {color: COLORS[k], width: 4.5}, marker: {color: COLORS[k], size: 8.5}};
    if (g.legend) { tr.showlegend = true; tr.legend = g.legend; } else tr.showlegend = false;
    data.push(tr);
  });

  // vertical markers
  [nS, nT].forEach(n => {
    layout.shapes.push({type: 'line', xref: 'x' + sfx(n), yref: 'y' + sfx(n) + ' domain', x0: R.tL, x1: R.tL, y0: 0, y1: 1,
                        line: {color: '#0000ff', width: 4.5}, layer: 'above'});
    layout.shapes.push({type: 'line', xref: 'x' + sfx(n), yref: 'y' + sfx(n) + ' domain', x0: R.tP, x1: R.tP, y0: 0, y1: 1,
                        line: {color: '#ff0000', width: 4.5}, layer: 'above'});
  });

  // callouts
  const box = {showarrow: true, arrowhead: 2, arrowsize: 1.1, arrowwidth: 2.2, arrowcolor: 'black',
               bordercolor: 'black', borderwidth: 1.3, borderpad: 4, bgcolor: 'white', font: {size: 19}};
  layout.annotations.push(Object.assign({}, box, {xref: xS, yref: yS, x: g.sA.x, y: Math.log10(g.sA.y),
    ax: g.sA.ax, ay: g.sA.ay, text: '<i>t</i><sub><i>P</i></sub> = ' + R.tP}));
  layout.annotations.push(Object.assign({}, box, {xref: xT, yref: yT, x: g.tA.x, y: Math.log10(g.tA.y),
    ax: g.tA.ax, ay: g.tA.ay, text: '<i>t</i><sub>ℒ</sub> = ' + R.tL}));

  // x titles
  layout.annotations.push({xref: xT + ' domain', yref: 'paper', x: 0.5, y: 1 - (g.yt[1] + 52)/H, yanchor: 'middle',
    text: '<i>t</i>', showarrow: false, font: {size: 36}});
});

// y titles
const yTitles = [
  {text: 'S', x: 21, y: 156, size: 25},
  {text: 'Transport cost', x: 12, y: 470, size: 21},
  {text: 'S', x: 15, y: 876, size: 25},
  {text: 'Transport cost', x: 24, y: 1190, size: 21}
];
yTitles.forEach(o => layout.annotations.push({xref: 'paper', yref: 'paper', x: o.x/W, y: 1 - o.y/H,
  xanchor: 'center', yanchor: 'middle', text: o.text, textangle: -90, showarrow: false, font: {size: o.size}}));

Plotly.newPlot('chart', data, layout, {staticPlot: true, displayModeBar: false});
</script>
</body></html>
